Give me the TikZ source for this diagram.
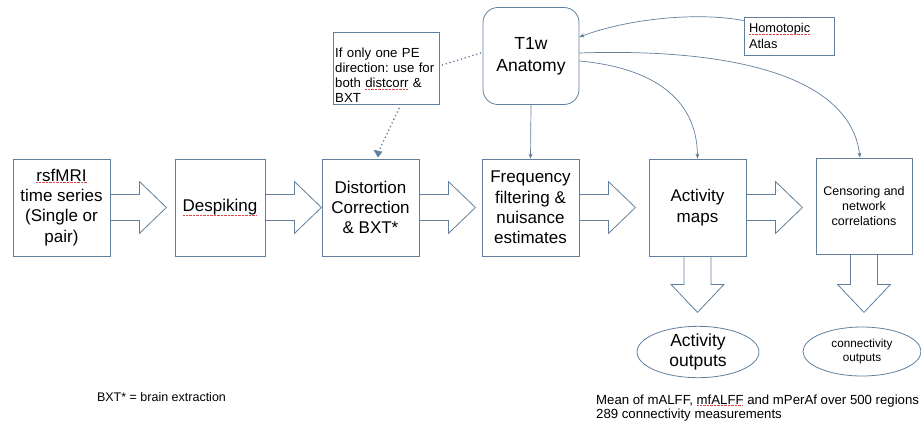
\documentclass[tikz,border=0pt]{standalone}
\usepackage{fontspec}
\setmainfont{Liberation Sans}
\frenchspacing
\usetikzlibrary{shapes.geometric,arrows.meta,calc}
\definecolor{ln}{RGB}{98,128,158}
\definecolor{spell}{RGB}{225,70,70}
\newcommand\hblock[1]{\draw[blk] ($(#1.east)+(0,-13)$) -- ++(29,0) -- ++(0,-13) -- ($(#1.east)+(56,0)$) -- ($(#1.east)+(29,26)$) -- ++(0,-13) -- ($(#1.east)+(0,13)$);}
\newcommand\vblock[2]{\draw[blk] ($(#1.south)+(-13.5,0)$) -- ++(0,#2) -- ++(-13,0) -- ($(#1.south)+(0,#2+28)$) -- ($(#1.south)+(26.5,#2)$) -- ++(-13,0) -- ($(#1.south)+(13.5,0)$);}
\begin{document}
\begin{tikzpicture}[x=1pt,y=-1pt,
  box/.style={draw=ln,line width=0.8pt,fill=white,minimum width=97pt,minimum height=97pt,inner sep=2pt,align=center,font=\fontsize{17}{20.2}\selectfont},
  tbox/.style={draw=ln,line width=0.8pt,fill=white,align=left,inner sep=4pt},
  ell/.style={ellipse,draw=ln,line width=0.8pt,inner sep=0pt,align=center},
  blk/.style={draw=ln,line width=0.8pt,line join=miter},
  con/.style={draw=ln,line width=0.7pt,-{Stealth[length=5pt,width=4pt]}},
  dot/.style={draw=ln,line width=1.8pt,line cap=round,dash pattern=on 0pt off 4pt},
  spellmark/.style={draw=spell,line width=0.5pt,dash pattern=on 0.6pt off 0.8pt}]
\useasboundingbox (0,0) rectangle (921,429);
\fill[white] (0,0) rectangle (921,429);
% main boxes
\node[box] (rs) at (61.5,207.5) {rsfMRI\\time series\\(Single or\\pair)};
\node[box,minimum width=90pt] (de) at (220,207.5) {Despiking};
\node[box] (dc) at (370.5,207.5) {Distortion\\Correction\\\& BXT*};
\node[box] (ff) at (530.5,207.5) {Frequency\\filtering \&\\nuisance\\estimates};
\node[box] (am) at (697.5,207.5) {Activity\\maps};
\node[box,minimum width=96pt,minimum height=96pt,font=\fontsize{12.5}{15}\selectfont] (cn) at (864,206) {Censoring and\\network\\correlations};
\node[box,rounded corners=15pt,minimum width=96pt,font=\fontsize{17.5}{22}\selectfont] (t1) at (531,56) {T1w\\Anatomy};
\node[tbox,minimum width=106pt,minimum height=72pt] (nt) at (386,68) {};
\node[anchor=north west,align=left,inner sep=0pt,text width=106pt,font=\fontsize{13.2}{15}\selectfont] (ntt) at (335,48) {If only one PE\\direction: use for\\both distcorr \&\\BXT};
\node[tbox,text width=80pt,minimum height=38pt,inner sep=5pt,font=\fontsize{12.8}{15.5}\selectfont] (at) at (789,36) {Homotopic\\Atlas};
% outputs
\node[ell,minimum width=122pt,minimum height=50pt,font=\fontsize{17.5}{20}\selectfont] (ao) at (698,352) {Activity\\outputs};
\node[ell,minimum width=118pt,minimum height=49pt,font=\fontsize{11.7}{14}\selectfont] (co) at (862,351.5) {connectivity\\outputs};
% free texts
\node[anchor=north west,align=left,inner sep=0pt,font=\fontsize{13.2}{14.8}\selectfont] (mean) at (596,394.4) {Mean of mALFF, mfALFF and mPerAf over 500 regions\\289 connectivity measurements};
\node[inner sep=0pt,font=\fontsize{12.5}{15}\selectfont] (bxt) at (161.5,397) {BXT* = brain extraction};
% block arrows
\hblock{rs}
\hblock{de}
\hblock{dc}
\hblock{ff}
\hblock{am}
\vblock{am}{28}
\vblock{cn}{30}
% connectors
\draw[con] ($(at.north west)+(0,4)$) .. controls (700,12) and (630,18) .. ($(t1.east)+(0,-19)$);
\draw[con] ($(t1.east)+(0,-3)$) .. controls (730,48) and (850,75) .. ($(cn.north)+(-4,0)$);
\draw[con] ($(t1.east)+(0,5)$) .. controls (655,68) and (697,100) .. (am.north);
\draw[con] (t1.south) -- (ff.north);
\draw[dot] ($(nt.east)+(3,-3)$) -- ($(t1.west)+(-2,-3)$);
\draw[dot] ($(nt.south)+(13,4)$) -- ($(dc.north)+(9,-9)$);
\draw[draw=ln,fill=ln] ($(dc.north)+(7.5,-1.5)$) -- ++(-4,-7) -- ++(8,1.8) -- cycle;
% spelling marks
\draw[spellmark] (36,182.5) -- (87,182.5);
\draw[spellmark] (183,215) -- (257,215);
\draw[spellmark] (365,89) -- (408,89);
\draw[spellmark] (749,34.5) -- (810,34.5);
\draw[spellmark] (697,405.5) -- (743,405.5);
\end{tikzpicture}
\end{document}
